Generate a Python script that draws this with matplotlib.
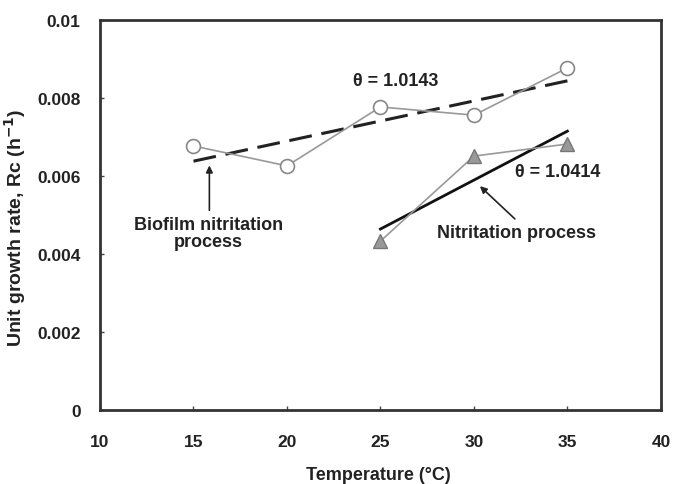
import matplotlib
matplotlib.use("Agg")
import matplotlib.pyplot as plt

plt.rcParams['font.family'] = ['Liberation Sans', 'DejaVu Sans']

# Data
temp = [15, 20, 25, 30, 35]
biofilm_rc = [0.00677, 0.00626, 0.00777, 0.00756, 0.00877]
nit_temp = [25, 30, 35]
nit_rc = [0.00433, 0.00651, 0.00682]
biofilm_fit_t = [15, 35]
biofilm_fit_rc = [0.00638, 0.00844]
nit_fit_t = [25, 35]
nit_fit_rc = [0.00464, 0.00715]
xticks = [10, 15, 20, 25, 30, 35, 40]
yticks = [0, 0.002, 0.004, 0.006, 0.008, 0.01]
yticklabels = ['0', '0.002', '0.004', '0.006', '0.008', '0.01']

fig = plt.figure(figsize=(6.73, 4.85), dpi=100)
ax = fig.add_axes([0.1486, 0.1526, 0.982 - 0.1486, 0.9567 - 0.1526])

ax.plot(temp, biofilm_rc, color='#999999', lw=1.2, marker='o', ms=10,
        mfc='white', mec='#888888', mew=1.2, zorder=3)
ax.plot(nit_temp, nit_rc, color='#999999', lw=1.2, marker='^', ms=9.5,
        mfc='#999999', mec='#777777', mew=1.0, zorder=3)
ax.plot(biofilm_fit_t, biofilm_fit_rc, color='#222222', lw=2.2,
        dashes=(7.5, 3.2), zorder=2)
ax.plot(nit_fit_t, nit_fit_rc, color='#111111', lw=2.0, zorder=2)

ax.set_xlim(10, 40)
ax.set_ylim(0, 0.01)
ax.set_xticks(xticks)
ax.set_yticks(yticks)
ax.set_yticklabels(yticklabels)
ax.tick_params(direction='in', length=3, width=1, color='#444444',
               labelsize=12.5, labelcolor='#222222')
ax.tick_params(axis='x', pad=17)
ax.tick_params(axis='y', pad=14)
for lab in ax.get_xticklabels() + ax.get_yticklabels():
    lab.set_fontweight('bold')
for s in ax.spines.values():
    s.set_linewidth(2)
    s.set_color('#333333')

fig.text(0.562, 0.019, 'Temperature (°C)', fontsize=13, fontweight='bold',
         color='#222222', ha='center', va='center')
fig.text(0.022, 0.53, 'Unit growth rate, Rc (h$^{\\mathbf{-1}}$)', fontsize=14,
         fontweight='bold', color='#222222', ha='center', va='center',
         rotation=90)

ax.text(25.8, 0.00845, 'θ = 1.0143', fontsize=13, fontweight='bold',
        ha='center', va='center', color='#222222')
ax.text(34.5, 0.00612, 'θ = 1.0414', fontsize=13, fontweight='bold',
        ha='center', va='center', color='#222222')

ax.text(32.3, 0.00454, 'Nitritation process', fontsize=13, fontweight='bold',
        ha='center', va='center', color='#222222')
ax.annotate('', xy=(30.32, 0.00574), xytext=(32.19, 0.0049),
            arrowprops=dict(arrowstyle='-|>', color='#222222', lw=1.2,
                            mutation_scale=10, shrinkA=0, shrinkB=0))
ax.text(15.8, 0.00454, 'Biofilm nitritation\nprocess', fontsize=13,
        fontweight='bold', ha='center', va='center', color='#222222',
        linespacing=1.0)
ax.annotate('', xy=(15.85, 0.00627), xytext=(15.85, 0.00512),
            arrowprops=dict(arrowstyle='-|>', color='#222222', lw=1.2,
                            mutation_scale=10, shrinkA=0, shrinkB=0))

fig.savefig('out.png', dpi=100)
